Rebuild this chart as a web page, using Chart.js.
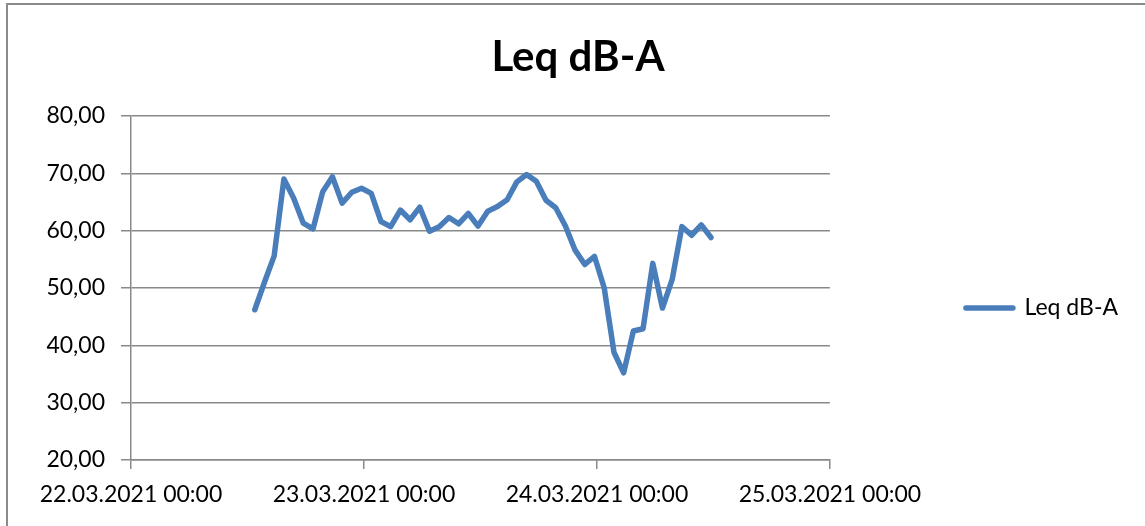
<!DOCTYPE html>
<html lang="de">
<head>
  <meta charset="UTF-8" />
  <title>Leq dB-A</title>
  <script src="https://cdn.jsdelivr.net/npm/chart.js"></script>
  <style>
    html, body {
      margin: 0;
      padding: 0;
      background: #ffffff;
      overflow: hidden;
    }
    .frame {
      position: absolute;
      left: 6px;
      top: 3px;
      width: 1200px;
      height: 700px;
      border-left: 2px solid #8a8a8a;
      border-top: 2px solid #8a8a8a;
      pointer-events: none;
    }
    canvas {
      position: absolute;
      left: 0;
      top: 0;
    }
  </style>
</head>
<body>
  <canvas id="leqChart" width="1145" height="526"></canvas>
  <div class="frame"></div>

  <script>
    // x axis: hours since 22.03.2021 00:00
    const dayLabels = ["22.03.2021 00:00", "23.03.2021 00:00", "24.03.2021 00:00", "25.03.2021 00:00"];
    const firstSampleHour = 12.75; // 22.03.2021 12:45, one sample per hour
    const seriesName = "Leq dB-A";

    const leqValues = [
      46.2, 51.0, 55.6, 69.0, 65.7, 61.3, 60.3, 66.8, 69.4, 64.8,
      66.7, 67.4, 66.5, 61.6, 60.7, 63.6, 61.9, 64.1, 59.9, 60.7,
      62.3, 61.2, 63.0, 60.8, 63.4, 64.2, 65.4, 68.5, 69.8, 68.6,
      65.3, 64.0, 60.8, 56.6, 54.1, 55.5, 50.0, 38.8, 35.2, 42.5,
      42.9, 54.3, 46.5, 51.5, 60.7, 59.2, 61.0, 58.8
    ];

    const points = leqValues.map((v, i) => ({ x: firstSampleHour + i, y: v }));

    const gridGray = "#898989";
    const fontFamily = "Lato, 'Open Sans', sans-serif";

    const ctx = document.getElementById("leqChart").getContext("2d");

    new Chart(ctx, {
      type: "line",
      data: {
        datasets: [
          {
            label: seriesName,
            data: points,
            borderColor: "#4a7ebb",
            backgroundColor: "#4a7ebb",
            borderWidth: 5.5,
            borderJoinStyle: "round",
            borderCapStyle: "round",
            pointRadius: 0,
            tension: 0,
            fill: false,
          },
        ],
      },
      options: {
        responsive: false,
        animation: false,
        layout: {
          padding: { left: 28, right: 17, top: 0, bottom: 0 },
        },
        plugins: {
          title: {
            display: true,
            text: seriesName,
            color: "#000",
            font: { family: fontFamily, size: 42, weight: "bold", lineHeight: 1.2 },
            padding: { top: 32, bottom: 33.6 },
          },
          legend: {
            position: "right",
            // empty legend title only pushes the entry down
            title: {
              display: true,
              text: "",
              font: { size: 10, lineHeight: 1.2 },
              padding: { top: 0, bottom: 78 },
            },
            labels: {
              color: "#000",
              font: { family: fontFamily, size: 23 },
              boxWidth: 47,
              boxHeight: 0,
              padding: 10,
            },
          },
          tooltip: { enabled: false },
        },
        scales: {
          x: {
            type: "linear",
            min: 0,
            max: 72,
            afterFit: (scale) => { scale.height = 66; },
            grid: {
              drawOnChartArea: false,
              drawTicks: true,
              tickLength: 9,
              color: gridGray,
              lineWidth: 1.5,
            },
            border: { display: true, color: gridGray, width: 1.5 },
            ticks: {
              stepSize: 24,
              autoSkip: false,
              maxRotation: 0,
              padding: 12,
              color: "#000",
              font: { family: fontFamily, size: 23 },
              callback: (v) => dayLabels[v / 24],
            },
          },
          y: {
            min: 20,
            max: 80,
            afterFit: (scale) => { scale.width = 103; },
            grid: {
              color: gridGray,
              lineWidth: 1.5,
              tickLength: 10,
            },
            border: { display: true, color: gridGray, width: 1.5 },
            ticks: {
              stepSize: 10,
              padding: 16,
              color: "#000",
              font: { family: fontFamily, size: 23 },
              callback: (v) => v.toFixed(2).replace(".", ","),
            },
          },
          // empty right-hand box: keeps the gap between plot and legend
          gap: {
            position: "right",
            afterFit: (scale) => { scale.width = 126; },
            grid: { display: false },
            border: { display: false },
            ticks: { display: false },
          },
        },
      },
    });
  </script>
</body>
</html>
